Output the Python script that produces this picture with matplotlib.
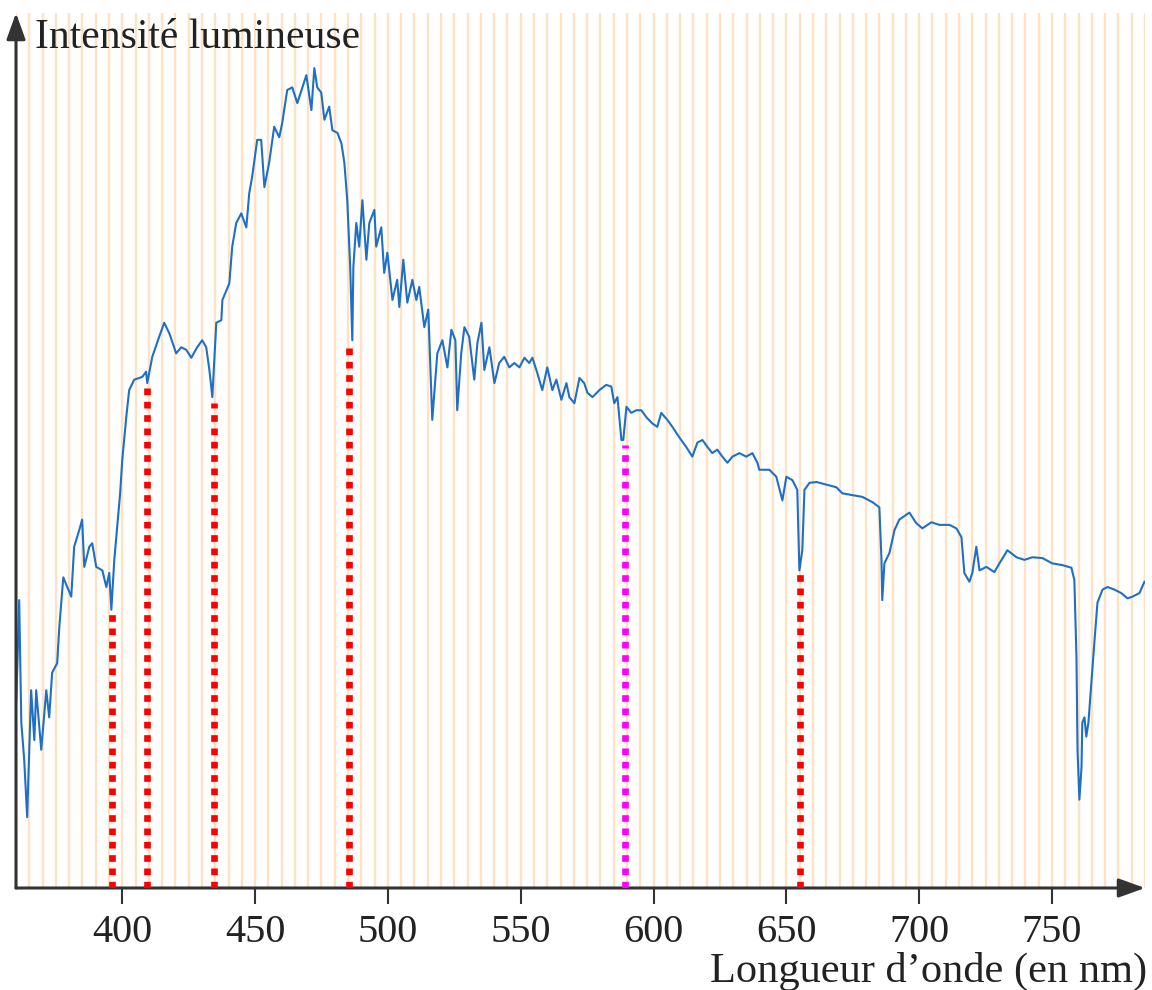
import numpy as np
import matplotlib
matplotlib.use("Agg")
import matplotlib.pyplot as plt
from matplotlib.ticker import MultipleLocator

plt.rcParams['font.family'] = ['Liberation Serif', 'DejaVu Serif']

# spectre : longueur d'onde (nm) et intensité (unités arbitraires)
wavelength = [
    360.1, 360.5, 361.2, 362.0, 363.1, 364.2, 365.7, 366.9, 367.6, 369.5,
    371.4, 372.5, 373.6, 375.5, 376.3, 377.8, 379.3, 380.8, 381.9, 383.8,
    384.9, 385.7, 387.6, 388.7, 390.2, 392.5, 394.0, 395.1, 395.9, 397.0,
    398.1, 399.2, 400.0, 401.5, 402.6, 404.5, 407.5, 409.0, 409.4, 411.3,
    413.9, 415.8, 417.7, 420.3, 422.2, 424.1, 426.0, 428.2, 430.1, 431.6,
    432.8, 433.9, 434.6, 435.4, 437.3, 437.7, 440.3, 441.4, 442.9, 444.8,
    446.7, 447.8, 448.9, 450.8, 452.3, 453.5, 455.3, 457.2, 459.1, 460.2,
    462.1, 464.0, 465.9, 467.8, 469.3, 471.2, 472.3, 473.4, 474.9, 476.1,
    477.9, 479.1, 481.0, 482.5, 483.6, 484.7, 485.8, 486.6, 487.0, 488.1,
    489.2, 490.4, 491.9, 493.0, 494.9, 495.6, 497.5, 498.6, 499.8, 501.7,
    503.5, 504.3, 505.8, 507.3, 509.2, 510.7, 511.8, 513.7, 515.2, 516.7,
    518.6, 520.5, 522.4, 523.9, 525.4, 526.1, 527.6, 528.8, 530.6, 532.5,
    533.7, 535.2, 536.3, 538.2, 540.1, 541.9, 543.8, 545.7, 547.6, 549.5,
    551.4, 553.2, 554.4, 556.2, 558.1, 560.0, 561.9, 563.4, 565.3, 567.2,
    568.3, 570.2, 572.1, 573.9, 575.1, 577.0, 579.6, 582.2, 584.1, 585.2,
    586.4, 587.9, 588.6, 589.8, 591.6, 593.5, 595.4, 597.3, 599.5, 601.4,
    602.9, 605.2, 607.1, 609.7, 612.3, 614.6, 616.5, 618.4, 620.3, 622.1,
    624.0, 625.9, 627.8, 629.7, 632.3, 634.9, 637.2, 639.1, 639.8, 643.6,
    646.2, 648.5, 650.0, 652.3, 654.1, 654.9, 656.0, 656.8, 658.7, 661.3,
    665.1, 668.8, 671.1, 674.8, 678.6, 682.4, 685.0, 685.8, 686.1, 686.9,
    688.8, 690.7, 692.5, 696.3, 698.9, 701.2, 704.6, 707.6, 711.4, 714.0,
    715.9, 717.0, 718.9, 720.0, 721.5, 722.7, 725.3, 728.3, 730.2, 733.2,
    736.6, 739.6, 742.6, 746.4, 750.1, 753.9, 757.3, 758.4, 759.2, 759.6,
    760.3, 761.1, 761.4, 762.2, 762.9, 763.7, 764.8, 766.0, 767.1, 769.0,
    770.9, 773.5, 776.1, 778.4, 780.3, 782.9, 784.8,
]
intensity = [
    21.5, 25.3, 32.9, 18.9, 14.6, 8.1, 22.6, 16.9, 22.6, 15.8,
    22.6, 19.5, 24.6, 25.7, 29.8, 35.5, 34.4, 33.3, 39.0, 40.9,
    42.1, 36.7, 39.0, 39.4, 36.7, 36.3, 34.4, 36.0, 31.8, 37.5,
    41.3, 45.1, 48.9, 53.8, 56.9, 58.1, 58.4, 59.0, 57.7, 60.7,
    63.0, 64.6, 63.4, 61.1, 61.8, 61.5, 60.6, 61.8, 62.6, 61.8,
    59.2, 56.1, 60.0, 64.6, 64.9, 67.2, 69.1, 73.3, 76.0, 77.1,
    75.5, 79.4, 81.3, 85.5, 85.5, 80.1, 82.9, 87.0, 85.8, 87.4,
    91.2, 91.5, 89.7, 91.5, 92.9, 88.9, 93.7, 91.5, 90.9, 87.8,
    89.3, 86.6, 86.3, 85.1, 82.9, 78.6, 71.0, 62.6, 71.0, 76.0,
    73.3, 78.6, 71.8, 76.0, 77.5, 73.3, 75.5, 70.3, 72.6, 67.2,
    69.5, 66.4, 71.8, 66.9, 69.5, 67.2, 68.7, 64.1, 66.1, 53.5,
    61.1, 62.6, 59.5, 63.8, 62.6, 54.6, 61.1, 64.1, 63.0, 58.1,
    62.3, 64.6, 59.2, 61.8, 57.7, 60.0, 60.7, 59.5, 60.0, 59.5,
    60.6, 60.0, 60.6, 58.9, 56.9, 59.5, 56.9, 58.1, 55.8, 57.7,
    56.1, 55.4, 58.3, 57.7, 56.6, 56.1, 56.9, 57.5, 57.3, 55.4,
    56.1, 51.2, 51.2, 55.0, 54.3, 54.6, 54.6, 53.8, 53.1, 52.7,
    54.3, 53.5, 52.7, 51.5, 50.4, 49.3, 50.9, 51.2, 50.4, 49.7,
    50.1, 49.3, 48.6, 49.3, 49.7, 49.3, 49.7, 48.6, 47.8, 47.8,
    47.0, 44.3, 47.0, 46.6, 45.5, 36.3, 38.6, 45.5, 46.3, 46.4,
    46.1, 45.8, 45.1, 44.9, 44.7, 44.1, 43.5, 37.5, 32.9, 37.1,
    38.3, 40.9, 42.1, 42.9, 41.7, 41.1, 41.8, 41.5, 41.5, 41.1,
    40.1, 36.0, 35.0, 36.0, 39.0, 36.3, 36.7, 36.1, 37.1, 38.6,
    37.8, 37.5, 37.8, 37.7, 37.1, 36.9, 36.6, 35.2, 26.4, 15.8,
    10.1, 13.8, 18.9, 19.5, 17.3, 18.9, 23.4, 28.3, 32.6, 34.1,
    34.4, 34.1, 33.7, 33.1, 33.3, 33.7, 35.0,
]

# raies repérées (pointillés) : position, hauteur atteinte, couleur
line_wl = [396.0, 409.3, 434.6, 485.5, 589.2, 655.0]
line_top = [32.0, 57.5, 55.4, 62.1, 50.6, 36.1]
line_color = ['#ff0000', '#ff0000', '#ff0000', '#ff0000', '#ff00ff', '#ff0000']

xticks = [400, 450, 500, 550, 600, 650, 700, 750]

W, H = 1152, 990
fig = plt.figure(figsize=(W / 100, H / 100), dpi=100)
ax = fig.add_axes([16 / W, 102 / H, 1129 / W, 875 / H])

ax.plot(wavelength, intensity, color='#1f6fc4', lw=1.5, zorder=3)

for x, top, c in zip(line_wl, line_top, line_color):
    ax.plot([x, x], [0, top], color=c, lw=4.8, linestyle=(0, (1, 1)),
            solid_capstyle='butt', zorder=4)

ax.set_xlim(360, 785)
ax.set_ylim(0, 100)

# bandes orange tous les 5 nm
ax.xaxis.set_minor_locator(MultipleLocator(5))
ax.set_xticks(xticks)
ax.grid(which='both', axis='x', color='#fee2c2', lw=1.7)
ax.set_axisbelow(True)

ax.tick_params(axis='x', which='major', direction='out', length=11.5, width=1.5,
               color='#333333', labelsize=29, pad=7, labelcolor='#222222')
ax.tick_params(axis='x', which='minor', length=0)
ax.set_yticks([])

for s in ax.spines.values():
    s.set_visible(False)

arrow = dict(arrowstyle='-|>,head_length=0.5,head_width=0.18', lw=2.2,
             color='#333333', mutation_scale=32, shrinkA=0, shrinkB=0)
ax.annotate('', xy=(0, 1), xytext=(0, 0), xycoords='axes fraction',
            arrowprops=arrow, annotation_clip=False)
ax.annotate('', xy=(1, 0), xytext=(0, 0), xycoords='axes fraction',
            arrowprops=arrow, annotation_clip=False)

fig.text(35 / W, 1 - 48 / H, 'Intensité lumineuse', fontsize=30,
         color='#222222', ha='left', va='baseline')
fig.text(1147 / W, 8 / H, 'Longueur d’onde (en nm)', fontsize=30.5,
         color='#222222', ha='right', va='baseline')

fig.savefig('out.png', dpi=100, facecolor='white')
